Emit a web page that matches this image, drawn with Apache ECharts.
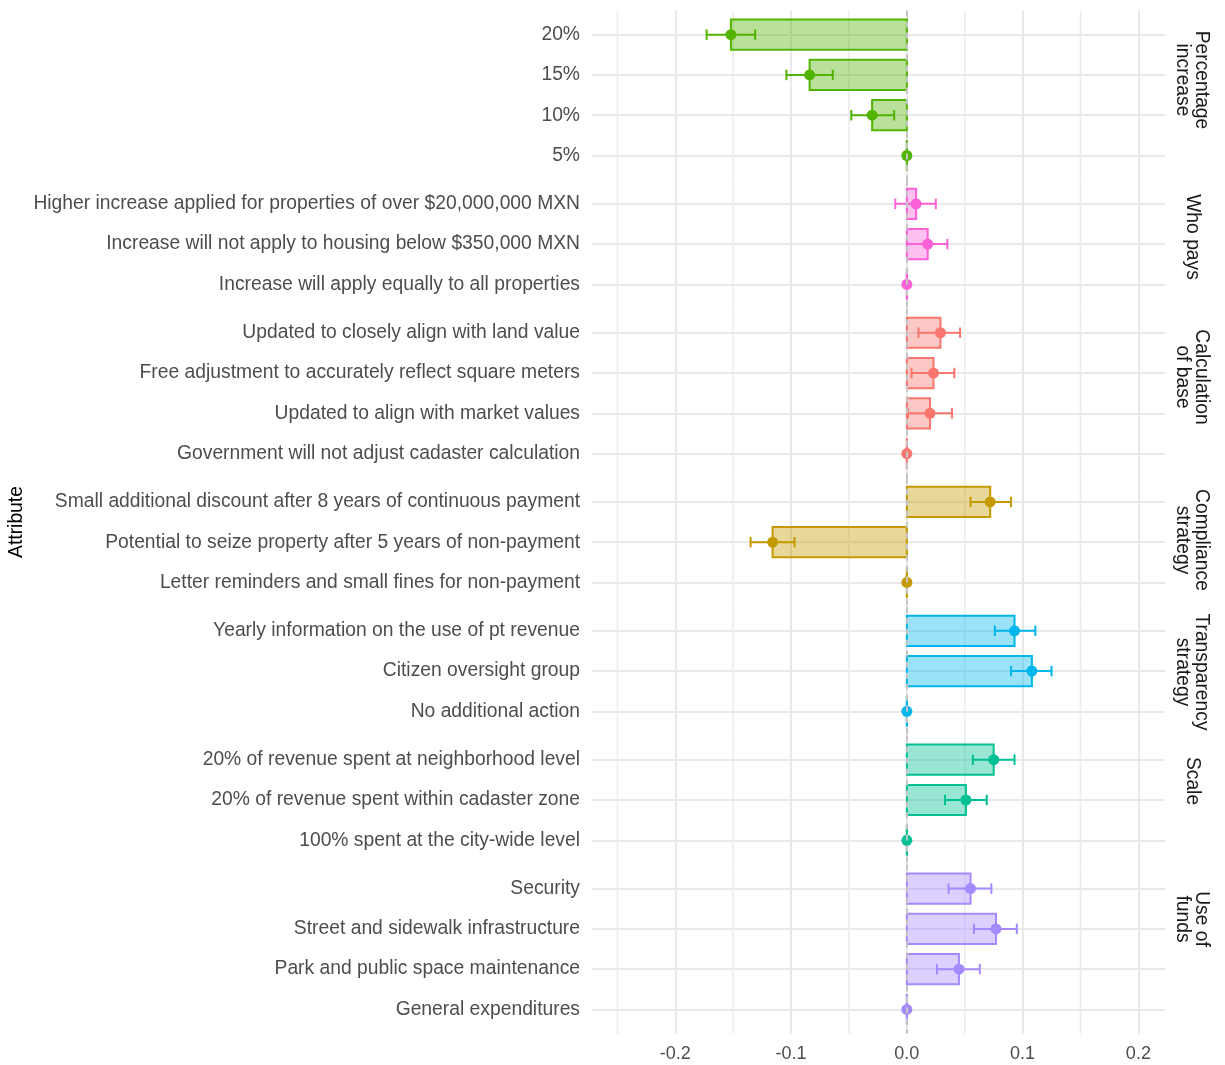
<!DOCTYPE html>
<html>
<head>
<meta charset="utf-8">
<script src="https://cdn.jsdelivr.net/npm/echarts@6/dist/echarts.min.js"></script>
<style>
  html, body { margin: 0; padding: 0; background: #ffffff; }
  #chart { width: 1225px; height: 1065px; }
</style>
</head>
<body>
<div id="chart"></div>
<script>
// Facet titles (one per attribute group, top to bottom)
const facetNames = ['Percentage\nincrease', 'Who pays', 'Calculation\nof base', 'Compliance\nstrategy', 'Transparency\nstrategy', 'Scale', 'Use of\nfunds'];
const facetColors = ['#53B400', '#FB61D7', '#F8766D', '#C49A00', '#00B6EB', '#00C094', '#A58AFF'];

// Levels and estimates for each attribute (listed top to bottom)
const percentLevels = ['20%', '15%', '10%', '5%'];
const percentEst = [-0.152, -0.084, -0.030, 0];
const percentLow = [-0.173, -0.104, -0.048, 0];
const percentHigh = [-0.131, -0.064, -0.011, 0];

const whoPaysLevels = ['Higher increase applied for properties of over $20,000,000 MXN', 'Increase will not apply to housing below $350,000 MXN', 'Increase will apply equally to all properties'];
const whoPaysEst = [0.008, 0.018, 0];
const whoPaysLow = [-0.010, 0.000, 0];
const whoPaysHigh = [0.025, 0.035, 0];

const baseLevels = ['Updated to closely align with land value', 'Free adjustment to accurately reflect square meters', 'Updated to align with market values', 'Government will not adjust cadaster calculation'];
const baseEst = [0.029, 0.023, 0.020, 0];
const baseLow = [0.010, 0.004, 0.001, 0];
const baseHigh = [0.046, 0.041, 0.039, 0];

const complianceLevels = ['Small additional discount after 8 years of continuous payment', 'Potential to seize property after 5 years of non-payment', 'Letter reminders and small fines for non-payment'];
const complianceEst = [0.072, -0.116, 0];
const complianceLow = [0.055, -0.135, 0];
const complianceHigh = [0.090, -0.097, 0];

const transparencyLevels = ['Yearly information on the use of pt revenue', 'Citizen oversight group', 'No additional action'];
const transparencyEst = [0.093, 0.108, 0];
const transparencyLow = [0.076, 0.090, 0];
const transparencyHigh = [0.111, 0.125, 0];

const scaleLevels = ['20% of revenue spent at neighborhood level', '20% of revenue spent within cadaster zone', '100% spent at the city-wide level'];
const scaleEst = [0.075, 0.051, 0];
const scaleLow = [0.057, 0.033, 0];
const scaleHigh = [0.093, 0.069, 0];

const fundsLevels = ['Security', 'Street and sidewalk infrastructure', 'Park and public space maintenance', 'General expenditures'];
const fundsEst = [0.055, 0.077, 0.045, 0];
const fundsLow = [0.036, 0.058, 0.026, 0];
const fundsHigh = [0.073, 0.095, 0.063, 0];

// X axis tick labels and minor grid positions
const xTicks = [-0.2, -0.1, 0, 0.1, 0.2];
const xMinor = [-0.25, -0.15, -0.05, 0.05, 0.15];

const facets = [
  { levels: percentLevels, est: percentEst, low: percentLow, high: percentHigh },
  { levels: whoPaysLevels, est: whoPaysEst, low: whoPaysLow, high: whoPaysHigh },
  { levels: baseLevels, est: baseEst, low: baseLow, high: baseHigh },
  { levels: complianceLevels, est: complianceEst, low: complianceLow, high: complianceHigh },
  { levels: transparencyLevels, est: transparencyEst, low: transparencyLow, high: transparencyHigh },
  { levels: scaleLevels, est: scaleEst, low: scaleLow, high: scaleHigh },
  { levels: fundsLevels, est: fundsEst, low: fundsLow, high: fundsHigh }
];

const FONT = "'Liberation Sans', Arial, sans-serif";
const plotTop = 10.5, plotLeft = 592, plotRight = 1165;
const rowUnit = 40.28;
const xMin = -0.272, xMax = 0.223;

function hexToRgba(hex, a) {
  const n = parseInt(hex.slice(1), 16);
  return 'rgba(' + ((n >> 16) & 255) + ',' + ((n >> 8) & 255) + ',' + (n & 255) + ',' + a + ')';
}

const grids = [], xAxes = [], yAxes = [], series = [], graphics = [];
let panelTop = plotTop;
const stripCenters = [80, 237, 377, 540, 672, 781, 919];

facets.forEach(function (f, gi) {
  const n = f.levels.length;
  const h = rowUnit * (n + 0.2);
  const color = facetColors[gi];
  grids.push({ left: plotLeft, width: plotRight - plotLeft, top: panelTop, height: h, containLabel: false });
  const isLast = gi === facets.length - 1;
  xAxes.push({
    type: 'value', gridIndex: gi, min: xMin, max: xMax,
    axisLine: { show: false },
    axisTick: { show: false, customValues: xTicks },
    axisLabel: { show: isLast, customValues: xTicks, color: '#4d4d4d', fontSize: 18, fontFamily: FONT, margin: 11,
      formatter: function (v) { return v.toFixed(1); } },
    splitLine: { show: true, lineStyle: { color: '#e9e9e9', width: 2 } }
  });
  const idx = f.levels.map(function (_, i) { return i; });
  yAxes.push({
    type: 'value', gridIndex: gi, min: -0.6, max: n - 0.4, inverse: true,
    axisLine: { show: false },
    axisTick: { show: false, customValues: idx },
    axisLabel: { show: true, customValues: idx, color: '#4d4d4d', fontSize: 19.3, fontFamily: FONT, margin: 12,
      padding: [2, 0, 0, 0],
      formatter: function (v) { return f.levels[Math.round(v)]; } },
    splitLine: { show: true, lineStyle: { color: '#e9e9e9', width: 2 } }
  });

  const data = f.est.map(function (e, i) { return [e, i, f.low[i], f.high[i]]; });

  // minor vertical grid lines
  series.push({
    type: 'custom', xAxisIndex: gi, yAxisIndex: gi, z: 1, silent: true,
    data: xMinor.map(function (v) { return [v]; }),
    renderItem: function (params, api) {
      const p0 = api.coord([api.value(0), -0.6]);
      const p1 = api.coord([api.value(0), n - 0.4]);
      return { type: 'line', shape: { x1: p0[0], y1: p0[1], x2: p1[0], y2: p1[1] },
        style: { stroke: '#ececec', lineWidth: 1.6 } };
    }
  });

  // bars from zero to the estimate
  series.push({
    type: 'custom', xAxisIndex: gi, yAxisIndex: gi, z: 2, silent: true,
    data: data,
    renderItem: function (params, api) {
      const e = api.value(0), i = api.value(1);
      const c0 = api.coord([0, i]);
      const c1 = api.coord([e, i]);
      const band = Math.abs(api.size([0, 1])[1]);
      const bh = band * 0.75;
      return {
        type: 'rect',
        shape: { x: Math.min(c0[0], c1[0]), y: c0[1] - bh / 2, width: Math.abs(c1[0] - c0[0]), height: bh },
        style: { fill: hexToRgba(color, 0.4), stroke: color, lineWidth: 2 }
      };
    }
  });

  // dashed reference line at zero
  series.push({
    type: 'line', xAxisIndex: gi, yAxisIndex: gi, z: 3, data: [], silent: true,
    markLine: {
      silent: true, symbol: ['none', 'none'], label: { show: false },
      lineStyle: { color: '#c4c4c4', width: 2, type: [6, 5] },
      data: [[{ coord: [0, -0.6] }, { coord: [0, n - 0.4] }]]
    }
  });

  // error bars and point estimates
  series.push({
    type: 'custom', xAxisIndex: gi, yAxisIndex: gi, z: 4, silent: true,
    data: data,
    renderItem: function (params, api) {
      const e = api.value(0), i = api.value(1), lo = api.value(2), hi = api.value(3);
      const band = Math.abs(api.size([0, 1])[1]);
      const cap = band * 0.13;
      const pl = api.coord([lo, i]), ph = api.coord([hi, i]), pe = api.coord([e, i]);
      const st = { stroke: color, lineWidth: 2 };
      const children = [];
      if (e === 0) {
        const bh = band * 0.375;
        children.push({ type: 'line', shape: { x1: pe[0], y1: pe[1] - bh, x2: pe[0], y2: pe[1] + bh }, style: st });
      }
      children.push(
        { type: 'line', shape: { x1: pl[0], y1: pl[1], x2: ph[0], y2: ph[1] }, style: st },
        { type: 'line', shape: { x1: pl[0], y1: pl[1] - cap, x2: pl[0], y2: pl[1] + cap }, style: st },
        { type: 'line', shape: { x1: ph[0], y1: ph[1] - cap, x2: ph[0], y2: ph[1] + cap }, style: st },
        { type: 'circle', shape: { cx: pe[0], cy: pe[1], r: 5.5 }, style: { fill: color } }
      );
      return { type: 'group', children: children };
    }
  });

  graphics.push({
    type: 'text', x: 1192, y: stripCenters[gi], rotation: -Math.PI / 2,
    style: { text: facetNames[gi], fill: '#1a1a1a', font: '19.3px ' + FONT, align: 'center', verticalAlign: 'middle', lineHeight: 19 }
  });

  panelTop += h;
});

graphics.push({
  type: 'text', x: 17, y: 522, rotation: Math.PI / 2,
  style: { text: 'Attribute', fill: '#000000', font: '19.3px ' + FONT, align: 'center', verticalAlign: 'middle' }
});

const chart = echarts.init(document.getElementById('chart'), null, { renderer: 'canvas' });
chart.setOption({
  animation: false,
  backgroundColor: '#ffffff',
  grid: grids,
  xAxis: xAxes,
  yAxis: yAxes,
  series: series,
  graphic: graphics
});
</script>
</body>
</html>
